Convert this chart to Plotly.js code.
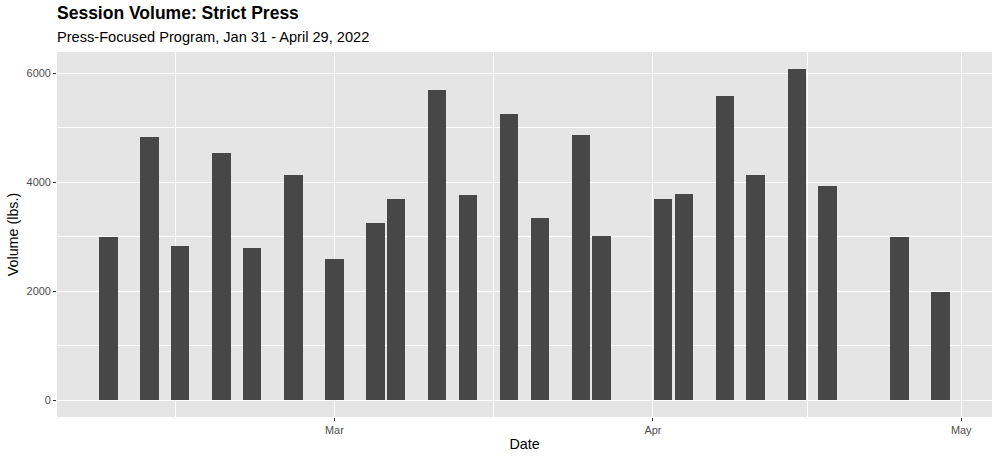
<!DOCTYPE html>
<html>
<head>
<meta charset="utf-8">
<script src="https://cdn.plot.ly/plotly-3.0.1.min.js"></script>
<style>
  html, body { margin: 0; padding: 0; background: #ffffff; }
  #chart { width: 1000px; height: 459px; }
</style>
</head>
<body>
<div id="chart"></div>
<script>
// Session dates and volumes (lbs.)
const sessionDates = [
  '2022-02-07', '2022-02-11', '2022-02-14', '2022-02-18', '2022-02-21', '2022-02-25',
  '2022-03-01', '2022-03-05', '2022-03-07', '2022-03-11', '2022-03-14', '2022-03-18',
  '2022-03-21', '2022-03-25', '2022-03-27', '2022-04-02', '2022-04-04', '2022-04-08',
  '2022-04-11', '2022-04-15', '2022-04-18', '2022-04-25', '2022-04-29'
];
const sessionVolumes = [
  2990, 4840, 2840, 4530, 2790, 4140,
  2600, 3260, 3690, 5700, 3760, 5260,
  3340, 4860, 3010, 3700, 3790, 5590,
  4140, 6080, 3940, 3000, 1980
];

// Axis ticks
const xTickVals = ['2022-03-01', '2022-04-01', '2022-05-01'];
const xTickText = ['Mar', 'Apr', 'May'];
const xMinorVals = ['2022-02-13 12:00', '2022-03-16 12:00', '2022-04-16 00:00'];
const yTickVals = [0, 2000, 4000, 6000];
const yMinorVals = [1000, 3000, 5000];

const titleText = 'Session Volume: Strict Press';
const subtitleText = 'Press-Focused Program, Jan 31 - April 29, 2022';

const DAY_MS = 86400000;

const trace = {
  type: 'bar',
  x: sessionDates,
  y: sessionVolumes,
  width: sessionDates.map(() => 1.8 * DAY_MS),
  marker: { color: '#474747', line: { width: 0 } },
  hoverinfo: 'x+y'
};

const fontFam = '"Liberation Sans", Arial, Helvetica, sans-serif';

const layout = {
  width: 1000,
  height: 459,
  margin: { l: 57, r: 8, t: 52, b: 42 },
  paper_bgcolor: '#ffffff',
  plot_bgcolor: '#E5E5E5',
  showlegend: false,
  bargap: 0,
  font: { family: fontFam, color: '#000000' },
  xaxis: {
    type: 'date',
    range: ['2022-02-02 00:14', '2022-05-03 23:46'],
    tickmode: 'array',
    tickvals: xTickVals,
    ticktext: xTickText,
    ticks: 'outside',
    ticklen: 3,
    tickwidth: 1,
    tickcolor: '#333333',
    tickfont: { family: fontFam, size: 10.9, color: '#4D4D4D' },
    showgrid: true,
    gridcolor: '#ffffff',
    gridwidth: 1.1,
    minor: {
      tickmode: 'array',
      tickvals: xMinorVals,
      ticks: '',
      showgrid: true,
      gridcolor: '#ffffff',
      gridwidth: 0.5
    },
    zeroline: false,
    showline: false,
    fixedrange: true,
    title: { text: 'Date', font: { family: fontFam, size: 14.3, color: '#000000' }, standoff: 3 }
  },
  yaxis: {
    range: [-304, 6390],
    tickmode: 'array',
    tickvals: yTickVals,
    ticktext: yTickVals.map(String),
    ticks: 'outside',
    ticklen: 3,
    tickwidth: 1,
    tickcolor: '#333333',
    tickfont: { family: fontFam, size: 10.9, color: '#4D4D4D' },
    showgrid: true,
    gridcolor: '#ffffff',
    gridwidth: 1.1,
    minor: {
      tickmode: 'array',
      tickvals: yMinorVals,
      ticks: '',
      showgrid: true,
      gridcolor: '#ffffff',
      gridwidth: 0.5
    },
    zeroline: false,
    showline: false,
    fixedrange: true,
    title: { text: 'Volume (lbs.)', font: { family: fontFam, size: 14.3, color: '#000000' }, standoff: 4 }
  },
  annotations: [
    {
      text: '<b>' + titleText + '</b>',
      xref: 'paper', yref: 'paper',
      x: 0, y: (417 - 13.5) / 365,
      xanchor: 'left', yanchor: 'middle',
      xshift: -2,
      showarrow: false,
      font: { family: fontFam, size: 17.5, color: '#000000' }
    },
    {
      text: subtitleText,
      xref: 'paper', yref: 'paper',
      x: 0, y: (417 - 36.5) / 365,
      xanchor: 'left', yanchor: 'middle',
      xshift: -2,
      showarrow: false,
      font: { family: fontFam, size: 14.6, color: '#000000' }
    }
  ]
};

Plotly.newPlot('chart', [trace], layout, { displayModeBar: false, staticPlot: false });
</script>
</body>
</html>
